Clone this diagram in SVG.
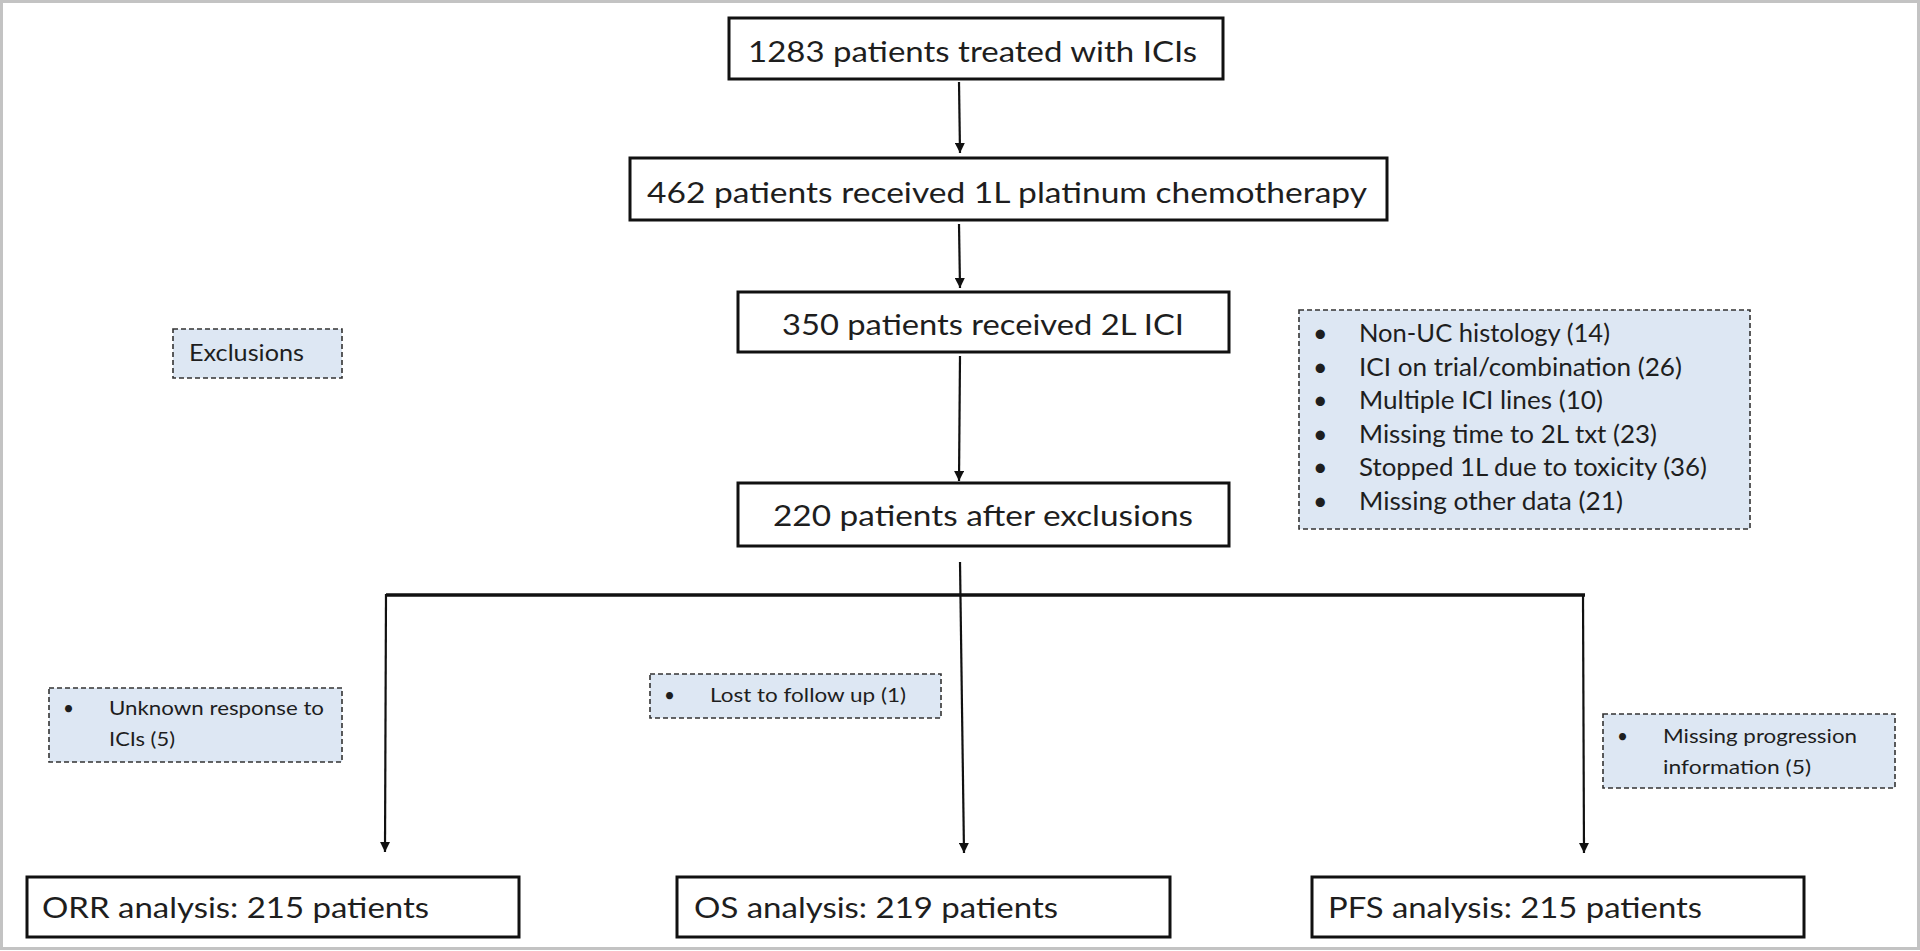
<svg xmlns="http://www.w3.org/2000/svg" width="1920" height="951" viewBox="0 0 1920 951">
<style>
.box{fill:#fff;stroke:#111;stroke-width:3}
.ex{fill:#dde7f3;stroke:#333;stroke-width:1.6;stroke-dasharray:5 3}
.t{font-family:Lato,"Noto Sans",sans-serif;fill:#1e1e1e}
.m{font-size:28px}
.l{font-size:23px}
.l2{font-size:25px}
.s{font-size:19px}
.ln{stroke:#111;stroke-width:2.2;fill:none}
</style>
<defs>
<marker id="ah" viewBox="0 0 10 10" refX="10" refY="5" markerWidth="10" markerHeight="10" markerUnits="userSpaceOnUse" orient="auto">
<path d="M0,0 L10,5 L0,10 z" fill="#111"/>
</marker>
</defs>
<rect x="0" y="0" width="1920" height="951" fill="#fff"/>
<rect x="1.5" y="1.5" width="1917" height="947" fill="none" stroke="#c3c3c3" stroke-width="3"/>

<g id="connectors">
<line class="ln" x1="959" y1="82" x2="960" y2="153" marker-end="url(#ah)"/>
<line class="ln" x1="959" y1="224" x2="960" y2="288" marker-end="url(#ah)"/>
<line class="ln" x1="960" y1="356" x2="959" y2="481" marker-end="url(#ah)"/>
<line class="ln" x1="960" y1="562" x2="964" y2="853" marker-end="url(#ah)"/>
<line x1="386" y1="595" x2="1585" y2="595" stroke="#111" stroke-width="3.5"/>
<line class="ln" x1="386" y1="594" x2="385" y2="852" marker-end="url(#ah)"/>
<line class="ln" x1="1583" y1="594" x2="1584" y2="853" marker-end="url(#ah)"/>
</g>

<g id="n1">
<rect class="box" x="729" y="18" width="494" height="61"/>
<text class="t m" x="748" y="62" textLength="449" lengthAdjust="spacingAndGlyphs">1283 patients treated with ICIs</text>
</g>
<g id="n2">
<rect class="box" x="630" y="158" width="757" height="62"/>
<text class="t m" x="647" y="203" textLength="720" lengthAdjust="spacingAndGlyphs">462 patients received 1L platinum chemotherapy</text>
</g>
<g id="n3">
<rect class="box" x="738" y="292" width="491" height="60"/>
<text class="t m" x="782" y="335" textLength="402" lengthAdjust="spacingAndGlyphs">350 patients received 2L ICI</text>
</g>
<g id="n4">
<rect class="box" x="738" y="483" width="491" height="63"/>
<text class="t m" x="773" y="526" textLength="420" lengthAdjust="spacingAndGlyphs">220 patients after exclusions</text>
</g>

<g id="exclusions-label">
<rect class="ex" x="173" y="329" width="169" height="49"/>
<text class="t l" x="189" y="361" textLength="115" lengthAdjust="spacingAndGlyphs">Exclusions</text>
</g>

<g id="exclusion-list">
<rect class="ex" x="1299" y="310" width="451" height="219"/>
<g class="t l2">
<text x="1313" y="342">•</text>
<text x="1359" y="342" textLength="251" lengthAdjust="spacingAndGlyphs">Non-UC histology (14)</text>
<text x="1313" y="376">•</text>
<text x="1359" y="376" textLength="323" lengthAdjust="spacingAndGlyphs">ICI on trial/combination (26)</text>
<text x="1313" y="409">•</text>
<text x="1359" y="409" textLength="244" lengthAdjust="spacingAndGlyphs">Multiple ICI lines (10)</text>
<text x="1313" y="443">•</text>
<text x="1359" y="443" textLength="298" lengthAdjust="spacingAndGlyphs">Missing time to 2L txt (23)</text>
<text x="1313" y="476">•</text>
<text x="1359" y="476" textLength="348" lengthAdjust="spacingAndGlyphs">Stopped 1L due to toxicity (36)</text>
<text x="1313" y="510">•</text>
<text x="1359" y="510" textLength="264" lengthAdjust="spacingAndGlyphs">Missing other data (21)</text>
</g>
</g>

<g id="ex-orr">
<rect class="ex" x="49" y="688" width="293" height="74"/>
<g class="t s">
<text x="63" y="715">•</text>
<text x="109" y="715" textLength="215" lengthAdjust="spacingAndGlyphs">Unknown response to</text>
<text x="109" y="746" textLength="66" lengthAdjust="spacingAndGlyphs">ICIs (5)</text>
</g>
</g>

<g id="ex-os">
<rect class="ex" x="650" y="674" width="291" height="44"/>
<g class="t s">
<text x="664" y="702">•</text>
<text x="710" y="702" textLength="196" lengthAdjust="spacingAndGlyphs">Lost to follow up (1)</text>
</g>
</g>

<g id="ex-pfs">
<rect class="ex" x="1603" y="714" width="292" height="74"/>
<g class="t s">
<text x="1617" y="743">•</text>
<text x="1663" y="743" textLength="194" lengthAdjust="spacingAndGlyphs">Missing progression</text>
<text x="1663" y="774" textLength="148" lengthAdjust="spacingAndGlyphs">information (5)</text>
</g>
</g>

<g id="orr">
<rect class="box" x="27" y="877" width="492" height="60"/>
<text class="t m" x="42" y="918" textLength="387" lengthAdjust="spacingAndGlyphs">ORR analysis: 215 patients</text>
</g>
<g id="os">
<rect class="box" x="677" y="877" width="493" height="60"/>
<text class="t m" x="694" y="918" textLength="364" lengthAdjust="spacingAndGlyphs">OS analysis: 219 patients</text>
</g>
<g id="pfs">
<rect class="box" x="1312" y="877" width="492" height="60"/>
<text class="t m" x="1328" y="918" textLength="374" lengthAdjust="spacingAndGlyphs">PFS analysis: 215 patients</text>
</g>
</svg>
